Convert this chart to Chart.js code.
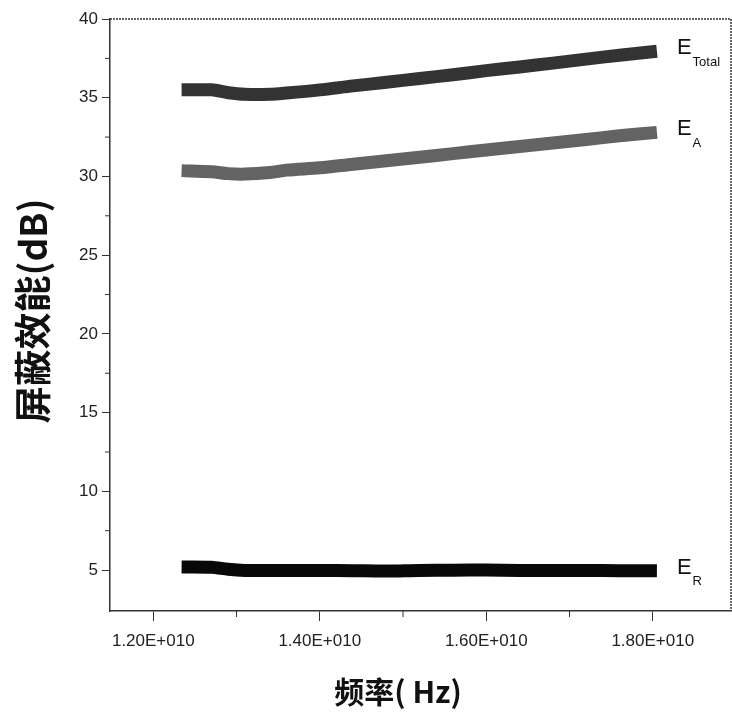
<!DOCTYPE html>
<html>
<head>
<meta charset="utf-8">
<script src="https://cdn.jsdelivr.net/npm/chart.js@4/dist/chart.umd.min.js"></script>
<style>
  body { margin: 0; background: #fff; }
  canvas { display: block; }
</style>
</head>
<body>
<canvas id="chart" width="732" height="720"></canvas>
<script>
// frequenze in unità di 1E+010 Hz e valori
const freq = [1.234, 1.27, 1.29, 1.31, 1.34, 1.36, 1.40, 1.44, 1.48,
              1.52, 1.56, 1.60, 1.64, 1.68, 1.72, 1.76, 1.805];
const eTotal = [35.5, 35.5, 35.32, 35.22, 35.22, 35.3, 35.5, 35.75, 35.98, 36.22, 36.46, 36.72, 36.95, 37.2, 37.45, 37.7, 37.95];
const eA = [30.37, 30.3, 30.18, 30.15, 30.25, 30.4, 30.55, 30.78, 31.0, 31.22, 31.45, 31.68, 31.9, 32.12, 32.35, 32.58, 32.8];
const eR = [5.2, 5.18, 5.05, 4.98, 4.97, 4.97, 4.98, 4.96, 4.94, 4.98, 4.99, 5.0, 4.98, 4.97, 4.97, 4.96, 4.95];
const seriesNames = ['Total', 'A', 'R'];
const minorX = [1.3, 1.5, 1.7];
const minorY = [7.5, 12.5, 17.5, 22.5, 27.5, 32.5, 37.5];
const xTitle = '频率( Hz)';
const yTitle = '屏蔽效能(dB)';

function pts(vals) {
  return vals.map((v, i) => ({ x: freq[i], y: v }));
}

// cornice, tacche minori, etichette delle curve e titoli degli assi
const decor = {
  id: 'decor',
  afterDraw(chart) {
    const ctx = chart.ctx;
    const a = chart.chartArea;
    const x = chart.scales.x, y = chart.scales.y;
    ctx.save();
    ctx.strokeStyle = '#333';
    ctx.lineWidth = 1.5;
    ctx.setLineDash([2, 1]);
    ctx.beginPath();
    ctx.moveTo(a.left, a.top);
    ctx.lineTo(a.right, a.top);
    ctx.lineTo(a.right, a.bottom);
    ctx.stroke();
    ctx.setLineDash([]);
    ctx.lineWidth = 1;
    ctx.beginPath();
    minorX.forEach(v => {
      const px = x.getPixelForValue(v);
      ctx.moveTo(px, a.bottom); ctx.lineTo(px, a.bottom + 6);
    });
    minorY.forEach(v => {
      const py = y.getPixelForValue(v);
      ctx.moveTo(a.left, py); ctx.lineTo(a.left - 5, py);
    });
    ctx.stroke();

    ctx.fillStyle = '#111';
    ctx.textBaseline = 'middle';
    ctx.textAlign = 'left';
    seriesNames.forEach((name, i) => {
      const meta = chart.getDatasetMeta(i);
      const last = meta.data[meta.data.length - 1];
      const lx = last.x + 20;
      ctx.font = '22px "Liberation Sans"';
      ctx.fillText('E', lx, last.y - 3);
      const w = ctx.measureText('E').width;
      ctx.font = '13px "Liberation Sans"';
      ctx.fillText(name, lx + w + 1, last.y + 11);
    });

    ctx.font = 'bold 30px "Noto Sans CJK SC"';
    ctx.textAlign = 'center';
    ctx.fillText(xTitle, 398, 692);
    ctx.translate(33, (a.top + a.bottom) / 2 - 4);
    ctx.rotate(-Math.PI / 2);
    ctx.font = 'bold 37px "Noto Sans CJK SC"';
    ctx.fillText(yTitle, 0, 0);
    ctx.restore();
  }
};

const line = (data, color) => ({
  data: data,
  borderColor: color,
  borderWidth: 13,
  borderCapStyle: 'butt',
  pointRadius: 0,
  tension: 0.3,
  fill: false
});

new Chart(document.getElementById('chart'), {
  type: 'line',
  data: {
    datasets: [
      line(pts(eTotal), '#333333'),
      line(pts(eA), '#636363'),
      line(pts(eR), '#080808')
    ]
  },
  options: {
    responsive: false,
    animation: false,
    devicePixelRatio: 1,
    layout: { padding: { top: 19, right: 1, left: 0, bottom: 0 } },
    plugins: { legend: { display: false }, tooltip: { enabled: false } },
    scales: {
      x: {
        type: 'linear',
        min: 1.148,
        max: 1.894,
        afterFit: s => { s.height = 109; },
        border: { display: true, color: '#333', width: 1.5, dash: [2, 1] },
        grid: { drawOnChartArea: false, drawTicks: true, tickLength: 10, color: '#333' },
        ticks: {
          stepSize: 0.2,
          includeBounds: false,
          autoSkip: false,
          maxRotation: 0,
          padding: 10,
          color: '#222',
          font: { family: 'Liberation Sans', size: 17 },
          callback: v => v.toFixed(2) + 'E+010'
        }
      },
      y: {
        min: 2.4,
        max: 40,
        afterFit: s => { s.width = 110; },
        border: { display: true, color: '#333', width: 1.5, dash: [2, 1] },
        grid: { drawOnChartArea: false, drawTicks: true, tickLength: 8, color: '#333' },
        ticks: {
          stepSize: 5,
          includeBounds: false,
          padding: 4,
          color: '#222',
          font: { family: 'Liberation Sans', size: 17 }
        }
      }
    }
  },
  plugins: [decor]
});
</script>
</body>
</html>
